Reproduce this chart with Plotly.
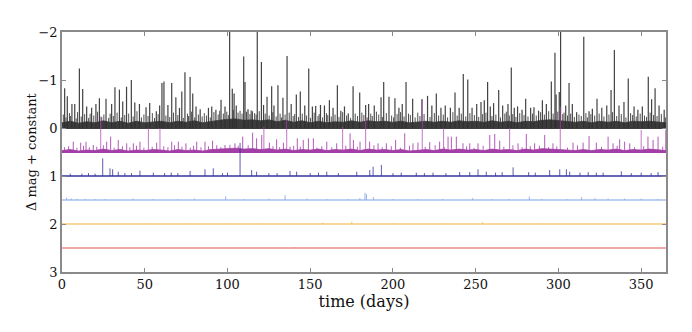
import plotly.graph_objects as go

# flare peaks (time in days, absolute delta mag)
black_days = [1.6, 3.2, 6.0, 7.7, 10.5, 12.5, 14.9, 17.9, 20.5, 22.6, 26.6, 30.0, 32.0, 34.7, 36.7, 39.0,
              41.9, 44.0, 46.8, 50.8, 53.0, 57.0, 59.0, 60.4, 61.6, 64.0, 66.3, 68.8, 71.0, 72.4, 74.3,
              77.4, 79.0, 81.0, 83.5, 88.5, 90.5, 93.0, 96.1, 98.5, 101.3, 102.9, 104.0, 105.3, 109.8,
              110.6, 112.4, 115.0, 118.0, 120.5, 121.8, 123.9, 126.7, 128.1, 130.5, 133.5, 136.0, 138.5,
              141.6, 144.0, 146.7, 149.1, 151.3, 153.3, 156.2, 158.6, 161.6, 163.8, 166.4, 168.5, 170.7,
              173.0, 175.9, 179.9, 183.5, 185.3, 188.7, 192.8, 194.4, 197.6, 201.2, 203.6, 205.6, 207.9,
              211.9, 217.5, 220.9, 223.5, 226.2, 229.0, 231.6, 234.7, 237.5, 240.0, 242.5, 245.2, 247.8,
              250.6, 253.2, 255.2, 257.2, 258.8, 260.8, 263.9, 266.3, 269.5, 271.5, 273.3, 275.3, 278.0,
              280.2, 283.2, 285.2, 288.0, 290.3, 292.7, 295.7, 297.9, 298.6, 300.5, 301.3, 304.4, 306.4,
              308.4, 311.0, 315.3, 318.5, 320.5, 323.3, 326.2, 329.2, 331.8, 333.8, 336.6, 339.6, 342.2,
              345.7, 348.0, 350.7, 354.3, 356.3, 358.4, 360.8, 363.9]
black_mags = [-0.83, -0.66, -0.5, -0.5, -1.24, -0.81, -0.45, -0.42, -0.5, -0.62, -0.61, -0.5, -0.85, -0.8,
              -0.55, -0.86, -1.0, -0.53, -0.5, -0.43, -0.52, -0.35, -0.47, -0.94, -0.97, -0.48, -0.94,
              -0.64, -0.42, -0.76, -1.16, -1.06, -0.72, -0.45, -0.39, -0.42, -0.45, -0.38, -0.59, -0.45,
              -2.3, -0.82, -0.72, -0.47, -1.49, -0.96, -0.39, -0.35, -2.3, -1.375, -0.48, -0.65, -0.87,
              -0.47, -0.89, -0.63, -1.5, -0.5, -0.7, -0.76, -0.47, -1.24, -0.45, -0.46, -0.48, -0.47,
              -0.58, -0.42, -0.89, -0.36, -0.45, -0.3, -0.87, -0.74, -0.48, -0.5, -0.47, -0.64, -0.96,
              -0.65, -0.62, -0.42, -0.5, -0.96, -0.61, -0.6, -0.67, -0.47, -0.72, -0.42, -0.47, -0.42,
              -0.74, -0.42, -1.125, -1.01, -0.42, -0.5, -0.54, -0.58, -0.96, -0.45, -0.52, -0.79, -0.47,
              -0.5, -1.26, -0.42, -0.45, -0.38, -0.61, -0.42, -0.43, -0.36, -0.58, -0.5, -0.97, -1.57,
              -0.7, -0.75, -2.3, -0.47, -0.94, -0.5, -0.33, -1.9, -0.35, -0.4, -0.61, -0.42, -0.47,
              -0.79, -1.625, -0.47, -0.54, -1.03, -0.45, -0.38, -0.45, -1.07, -0.6, -0.83, -0.47, -0.38]

# the many small flickers sitting on top of the black band
black_small_days = [0.8, 2.4, 4.5, 5.2, 8.6, 9.4, 11.6, 13.7, 16.1, 17.0,
                    19.2, 21.5, 24.0, 25.3, 28.2, 29.1, 31.0, 33.3, 35.8, 37.9,
                    40.3, 43.0, 45.3, 48.0, 49.5, 52.0, 54.6, 55.9, 58.1, 62.8,
                    65.1, 67.4, 70.0, 73.3, 75.8, 76.5, 78.2, 80.2, 82.4, 84.7,
                    86.0, 87.3, 89.6, 91.8, 94.4, 95.3, 97.5, 99.6, 100.5, 103.5,
                    106.4, 107.6, 108.8, 111.5, 113.6, 114.3, 116.4, 117.3, 119.2, 122.8,
                    125.2, 127.4, 129.4, 131.8, 132.6, 134.8, 137.3, 139.7, 140.6, 142.9,
                    145.2, 147.8, 150.2, 152.4, 154.7, 155.4, 157.5, 159.8, 160.6, 162.7,
                    165.0, 167.4, 169.6, 172.0, 174.4, 177.2, 178.6, 181.2, 182.4, 184.4,
                    186.6, 187.5, 190.0, 191.4, 193.6, 196.0, 199.2, 200.4, 202.5, 204.6,
                    206.7, 209.4, 210.5, 213.4, 215.0, 216.3, 218.8, 222.4, 225.0, 227.6,
                    230.4, 233.0, 236.2, 238.8, 241.3, 244.0, 246.5, 249.2, 251.8, 254.2,
                    256.2, 259.8, 262.2, 265.0, 267.6, 268.5, 270.3, 272.4, 274.3, 276.6,
                    279.2, 281.6, 284.3, 286.6, 289.2, 291.5, 294.1, 296.8, 299.6, 302.6,
                    303.4, 305.5, 307.4, 309.6, 312.4, 313.8, 316.6, 317.5, 319.6, 321.9,
                    324.6, 327.5, 330.5, 332.7, 335.2, 338.0, 340.8, 343.6, 344.7, 347.0,
                    349.4, 352.0, 353.2, 355.4, 357.5, 359.6, 362.2, 364.6]
black_small_mags = [-0.28, -0.22, -0.31, -0.25, -0.2, -0.33, -0.24, -0.29, -0.21, -0.3,
                    -0.26, -0.34, -0.23, -0.28, -0.21, -0.3, -0.25, -0.32, -0.22, -0.27,
                    -0.3, -0.24, -0.35, -0.22, -0.28, -0.25, -0.31, -0.21, -0.29, -0.26,
                    -0.23, -0.32, -0.27, -0.21, -0.3, -0.25, -0.34, -0.22, -0.28, -0.24,
                    -0.31, -0.26, -0.22, -0.33, -0.28, -0.36, -0.3, -0.34, -0.27, -0.38,
                    -0.32, -0.36, -0.3, -0.34, -0.29, -0.37, -0.31, -0.28, -0.35, -0.3,
                    -0.26, -0.33, -0.24, -0.3, -0.22, -0.28, -0.32, -0.25, -0.29, -0.23,
                    -0.3, -0.26, -0.21, -0.32, -0.25, -0.29, -0.22, -0.31, -0.27, -0.24,
                    -0.28, -0.23, -0.33, -0.26, -0.21, -0.3, -0.25, -0.32, -0.27, -0.22,
                    -0.3, -0.25, -0.34, -0.28, -0.23, -0.31, -0.26, -0.22, -0.29, -0.33,
                    -0.24, -0.3, -0.27, -0.22, -0.32, -0.25, -0.29, -0.23, -0.31, -0.26,
                    -0.28, -0.22, -0.33, -0.26, -0.3, -0.24, -0.31, -0.27, -0.23, -0.29,
                    -0.32, -0.25, -0.28, -0.22, -0.3, -0.34, -0.26, -0.29, -0.23, -0.31,
                    -0.27, -0.24, -0.3, -0.26, -0.33, -0.28, -0.35, -0.3, -0.34, -0.29,
                    -0.32, -0.26, -0.3, -0.23, -0.28, -0.25, -0.31, -0.22, -0.29, -0.26,
                    -0.3, -0.24, -0.28, -0.33, -0.25, -0.29, -0.22, -0.31, -0.27, -0.24,
                    -0.3, -0.26, -0.23, -0.32, -0.27, -0.25, -0.29, -0.22]

# upper edge of the dense noise band, every 5 days
band_days = list(range(0, 366, 5))
black_band = [-0.11, -0.14, -0.1, -0.13, -0.11, -0.15, -0.11, -0.14, -0.1, -0.14,
              -0.11, -0.13, -0.14, -0.11, -0.14, -0.12, -0.15, -0.11, -0.14, -0.16,
              -0.18, -0.19, -0.16, -0.17, -0.15, -0.17, -0.13, -0.16, -0.12, -0.15,
              -0.11, -0.14, -0.11, -0.13, -0.12, -0.15, -0.12, -0.15, -0.13, -0.14,
              -0.12, -0.14, -0.11, -0.13, -0.14, -0.12, -0.14, -0.12, -0.15, -0.13,
              -0.14, -0.12, -0.15, -0.12, -0.14, -0.11, -0.14, -0.13, -0.16, -0.17,
              -0.15, -0.14, -0.12, -0.14, -0.11, -0.14, -0.12, -0.14, -0.11, -0.14,
              -0.13, -0.14, -0.12, -0.11]
magenta_band = [0.47, 0.45, 0.48, 0.46, 0.47, 0.44, 0.47, 0.45, 0.48, 0.46, 0.47, 0.45, 0.46, 0.48,
                0.45, 0.47, 0.46, 0.48, 0.45, 0.44, 0.43, 0.42, 0.44, 0.43, 0.45, 0.43, 0.46, 0.44,
                0.47, 0.45, 0.46, 0.44, 0.47, 0.45, 0.46, 0.44, 0.47, 0.44, 0.46, 0.45, 0.47, 0.45,
                0.48, 0.46, 0.45, 0.47, 0.44, 0.46, 0.44, 0.46, 0.45, 0.47, 0.44, 0.46, 0.45, 0.47,
                0.44, 0.46, 0.43, 0.44, 0.45, 0.46, 0.47, 0.45, 0.47, 0.45, 0.46, 0.44, 0.47, 0.45,
                0.46, 0.44, 0.46, 0.47]

magenta_tall_days = [23.4, 52.2, 59.2, 122.0, 135.8, 169.6, 183.5, 217.7, 230.6, 270.5, 301.1, 350.0, 364.8]
magenta_tall_mags = [-0.24, 0.0, 0.0, -0.03, -0.17, -0.03, -0.2, -0.6, 0.0, 0.0, -0.44, 0.04, 0.04]
magenta_days = [6.8, 11.3, 14.5, 18.9, 27.0, 29.4, 34.0, 39.1, 43.1, 47.1, 57.2, 66.3, 70.3, 74.9, 81.4,
                86.4, 91.0, 98.5, 104.5, 109.2, 115.2, 117.6, 120.7, 125.3, 129.7, 133.8, 137.8, 142.2,
                145.8, 148.9, 151.9, 160.0, 166.0, 174.1, 176.1, 180.1, 185.9, 191.0, 196.0, 201.6,
                207.1, 212.1, 215.1, 222.2, 228.2, 233.3, 235.3, 238.3, 242.3, 246.4, 251.4, 258.5,
                261.5, 264.5, 275.6, 280.6, 285.6, 291.7, 296.7, 308.8, 314.9, 318.5, 322.9, 330.0,
                333.0, 337.0, 340.0, 343.1, 354.1, 357.2, 360.2]
magenta_mags = [0.285, 0.305, 0.285, 0.354, 0.285, 0.18, 0.25, 0.319, 0.319, 0.285, 0.305, 0.285, 0.285,
                0.319, 0.285, 0.285, 0.264, 0.354, 0.319, 0.18, 0.097, 0.215, 0.146, 0.305, 0.236, 0.305,
                0.389, 0.215, 0.25, 0.215, 0.215, 0.285, 0.319, 0.111, 0.25, 0.285, 0.285, 0.319, 0.319,
                0.25, 0.111, 0.319, 0.305, 0.292, 0.285, 0.18, 0.18, 0.18, 0.319, 0.319, 0.319, 0.146,
                0.125, 0.264, 0.319, 0.125, 0.319, 0.146, 0.319, 0.305, 0.305, 0.167, 0.305, 0.18, 0.319,
                0.236, 0.285, 0.319, 0.18, 0.25, 0.18]
magenta_small_days = [1.5, 4.0, 9.0, 13.0, 16.5, 21.0, 25.0, 31.5, 36.5, 41.0,
                      45.0, 49.5, 54.5, 61.5, 64.0, 68.0, 72.5, 77.5, 79.5, 84.0,
                      88.5, 93.5, 96.0, 101.5, 106.5, 112.5, 127.5, 131.5, 140.0, 144.0,
                      154.0, 157.0, 163.0, 171.5, 178.5, 188.5, 193.5, 199.0, 204.5, 210.0,
                      219.5, 225.5, 231.0, 244.5, 249.0, 254.5, 267.0, 272.5, 278.0, 283.0,
                      288.5, 294.0, 299.0, 305.5, 311.5, 326.0, 335.5, 346.0, 351.5, 363.0]
magenta_small_mags = [0.4, 0.38, 0.41, 0.37, 0.4, 0.39, 0.36, 0.41, 0.38, 0.4,
                      0.37, 0.41, 0.39, 0.38, 0.4, 0.36, 0.39, 0.41, 0.37, 0.4,
                      0.38, 0.36, 0.4, 0.35, 0.37, 0.36, 0.38, 0.4, 0.37, 0.39,
                      0.41, 0.38, 0.4, 0.37, 0.39, 0.36, 0.4, 0.38, 0.41, 0.37,
                      0.39, 0.36, 0.4, 0.38, 0.41, 0.37, 0.39, 0.36, 0.4, 0.38,
                      0.37, 0.4, 0.38, 0.41, 0.36, 0.39, 0.37, 0.4, 0.38, 0.39]

blue_days = [5, 12, 16, 20, 24.6, 29.0, 30.6, 34.0, 38, 42, 47.1, 55.2, 62, 66, 70, 77.4, 86.4, 91.4, 97,
             100, 107.6, 114.6, 117.6, 125, 130, 137.8, 141.8, 150, 155, 160.0, 167, 178.1, 186.0, 188.0,
             193.0, 200, 205, 214.1, 219, 224.2, 232, 240.3, 246.4, 251.4, 256.4, 262, 266, 272.6, 282,
             286, 294.7, 300.8, 304.8, 306.8, 313, 318, 322.9, 327, 338.0, 344, 350, 356, 360.2]
blue_mags = [0.95, 0.95, 0.94, 0.95, 0.632, 0.84, 0.86, 0.91, 0.94, 0.94, 0.889, 0.93, 0.94, 0.93, 0.94,
             0.896, 0.861, 0.84, 0.94, 0.93, 0.31, 0.875, 0.91, 0.94, 0.94, 0.896, 0.91, 0.94, 0.93, 0.91,
             0.94, 0.91, 0.875, 0.806, 0.77, 0.94, 0.93, 0.93, 0.94, 0.93, 0.94, 0.917, 0.917, 0.861,
             0.91, 0.93, 0.92, 0.82, 0.92, 0.93, 0.875, 0.861, 0.861, 0.91, 0.93, 0.92, 0.93, 0.93,
             0.903, 0.94, 0.93, 0.94, 0.917]

lightblue_days = [2.8, 5.5, 9, 14, 20, 26, 43, 55, 70, 80, 98.9, 110, 125, 134.8, 148, 160, 173, 180,
                  183.1, 184, 188.2, 200, 215, 230, 248.2, 260, 270, 282.4, 290, 305, 314.0, 322, 330,
                  340, 350, 360]
lightblue_mags = [1.45, 1.47, 1.48, 1.48, 1.48, 1.48, 1.47, 1.48, 1.48, 1.47, 1.42, 1.48, 1.47, 1.4, 1.47,
                  1.48, 1.48, 1.46, 1.35, 1.38, 1.44, 1.48, 1.48, 1.48, 1.46, 1.48, 1.48, 1.43, 1.48,
                  1.48, 1.44, 1.46, 1.47, 1.47, 1.47, 1.48]

orange_days = [30, 50, 75, 100, 120, 157.5, 175.1, 200, 230, 254.2, 290, 330, 364]
orange_mags = [1.99, 1.99, 1.99, 1.99, 1.99, 1.97, 1.95, 1.99, 1.99, 1.96, 1.99, 1.99, 1.99]

red_days = [118, 140.4, 200]
red_mags = [2.495, 2.485, 2.495]

offsets = [0.0, 0.5, 1.0, 1.5, 2.0, 2.5]
T_END = 365


def spikes(days, mags, base):
    xs, ys = [], []
    for t, m in zip(days, mags):
        xs += [t, t, None]
        ys += [base, m, None]
    return xs, ys


fig = go.Figure()

# dense noise bands
for band, base, col in [(black_band, offsets[0], "#3d3d3d"), (magenta_band, offsets[1], "#a23ea6")]:
    fig.add_trace(go.Scatter(x=band_days + band_days[::-1], y=band + [base] * len(band_days),
                             fill="toself", fillcolor=col, mode="lines",
                             line=dict(color=col, width=0.8), hoverinfo="skip"))

# baselines
base_cols = ["#3d3d3d", "#a23ea6", "#34349e", "#a8bff0", "#f8c878", "#f08c8c"]
base_widths = [2, 2, 1.6, 1.5, 1.5, 1.5]
for base, col, w in zip(offsets, base_cols, base_widths):
    fig.add_trace(go.Scatter(x=[0, T_END], y=[base, base], mode="lines",
                             line=dict(color=col, width=w), hoverinfo="skip"))

series = [
    (black_small_days, black_small_mags, offsets[0], "rgba(60,60,60,0.9)", 1),
    (black_days, black_mags, offsets[0], "rgba(45,45,45,0.9)", 1.2),
    (magenta_small_days, magenta_small_mags, offsets[1], "rgba(165,60,170,0.8)", 1),
    (magenta_tall_days, magenta_tall_mags, offsets[1], "rgba(175,70,180,0.75)", 1),
    (magenta_days, magenta_mags, offsets[1], "rgba(165,60,170,0.85)", 1),
    (blue_days, blue_mags, offsets[2], "rgba(50,50,160,0.8)", 1),
    (lightblue_days, lightblue_mags, offsets[3], "rgba(140,170,235,0.9)", 1),
    (orange_days, orange_mags, offsets[4], "rgba(245,190,100,0.9)", 1),
    (red_days, red_mags, offsets[5], "rgba(235,120,120,0.9)", 1),
]
for days, mags, base, col, w in series:
    xs, ys = spikes(days, mags, base)
    fig.add_trace(go.Scatter(x=xs, y=ys, mode="lines", line=dict(color=col, width=w),
                             connectgaps=False, hoverinfo="skip"))

axis_style = dict(showgrid=False, zeroline=False, showline=True, linecolor="#8a8a8a", linewidth=1.6,
                  mirror="allticks", ticks="inside", ticklen=4, tickwidth=1, tickcolor="#8a8a8a",
                  automargin=False,
                  tickfont=dict(family="DejaVu Serif", size=13, color="#111"))

# the page body adds an 8px offset, so the margins are shifted to keep the axes in place
fig.update_layout(
    width=692, height=332,
    margin=dict(l=54, r=34, t=24, b=68),
    paper_bgcolor="white", plot_bgcolor="white",
    showlegend=False,
    font=dict(family="DejaVu Serif", size=13, color="#111"),
    xaxis=dict(range=[0, T_END], tickvals=[0, 50, 100, 150, 200, 250, 300, 350],
               title=dict(text="time (days)", standoff=4), **axis_style),
    yaxis=dict(range=[3, -2], tickvals=[-2, -1, 0, 1, 2, 3],
               ticktext=["\u22122", "\u22121", "0", "1", "2", "3"], **axis_style),
)
fig.add_annotation(text="\u0394 mag + constant", textangle=-90, xref="paper", yref="paper",
                   x=0, y=0.5, xshift=-31, xanchor="center", yanchor="middle", showarrow=False,
                   font=dict(family="DejaVu Serif", size=13, color="#111"))

fig.write_html("out.html")
